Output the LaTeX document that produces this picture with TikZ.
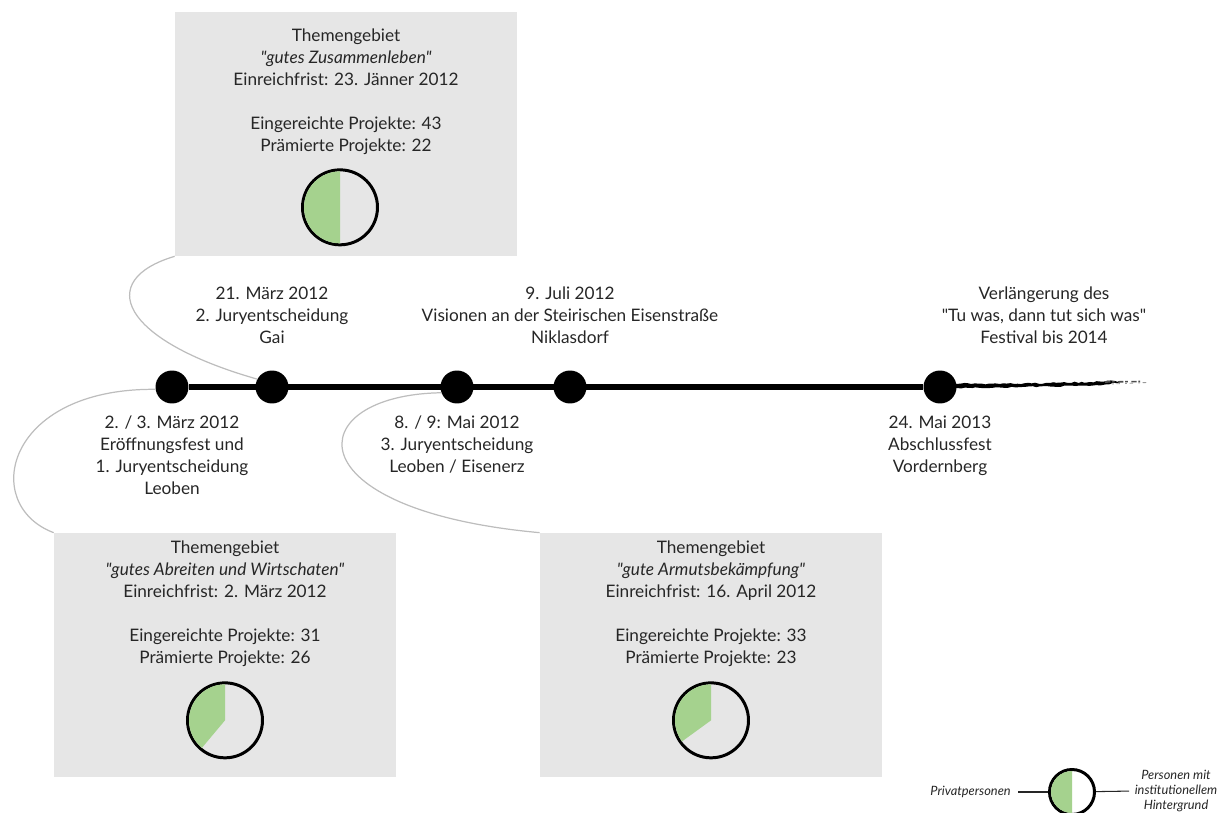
\documentclass[tikz,border=0pt]{standalone}
\usepackage{fontspec}
\setmainfont{Lato}[Ligatures=TeXOff]
\usetikzlibrary{positioning, decorations.pathmorphing}
\definecolor{BoxGray}{HTML}{E6E6E6}
\definecolor{PieGreen}{HTML}{A5D28E}
\definecolor{TextGray}{HTML}{262626}
\definecolor{LinkGray}{HTML}{BDBDBD}
\tikzset{
  themebox/.style={fill=BoxGray, minimum width=6.84cm, minimum height=4.88cm, inner sep=0pt},
  boxtext/.style={align=center, inner sep=0pt, text=TextGray,
    font=\fontsize{9.8}{12.5}\selectfont},
  evdot/.style={circle, fill=black, minimum size=0.66cm, inner sep=0pt},
  evlabel/.style={boxtext},
  pie/.style={circle, draw=black, line width=1.7pt, minimum size=1.5cm, inner sep=0pt},
  link/.style={draw=LinkGray, line width=0.7pt},
  timeline/.style={draw=black, line width=3.4pt},
  legtext/.style={align=center, inner sep=0pt, text=TextGray,
    font=\fontsize{7.3}{8.3}\selectfont\itshape},
  legline/.style={draw=TextGray, line width=0.6pt},
}

\begin{document}
\begin{tikzpicture}[x=0.02cm, y=-0.02cm]
  \useasboundingbox (0,0) rectangle (1223,813);

  % Themengebiete
  \node[themebox] (box1) at (346,134) {};
  \node[themebox] (box2) at (225,655) {};
  \node[themebox] (box3) at (711,655) {};
  \node[boxtext, below=0.34cm of box1.north] (txt1) {Themengebiet\\\textit{"gutes Zusammenleben"}\\Einreichfrist: 23. Jänner 2012\\[12.5pt]Eingereichte Projekte: 43\\Prämierte Projekte: 22};
  \node[boxtext, below=0.16cm of box2.north] (txt2) {Themengebiet\\\textit{"gutes Abreiten und Wirtschaten"}\\Einreichfrist: 2. März 2012\\[12.5pt]Eingereichte Projekte: 31\\Prämierte Projekte: 26};
  \node[boxtext, below=0.16cm of box3.north] (txt3) {Themengebiet\\\textit{"gute Armutsbekämpfung"}\\Einreichfrist: 16. April 2012\\[12.5pt]Eingereichte Projekte: 33\\Prämierte Projekte: 23};

  % Kreisdiagramme
  \node[pie, above=0.2cm of box1.south, xshift=-0.12cm] (pie1) {};
  \node[pie, above=0.36cm of box2.south] (pie2) {};
  \node[pie, above=0.36cm of box3.south] (pie3) {};
  \fill[PieGreen] (pie1.center) -- ++(90:0.72cm) arc[start angle=90, end angle=270, radius=0.72cm] -- cycle;
  \fill[PieGreen] (pie2.center) -- ++(90:0.72cm) arc[start angle=90, end angle=230, radius=0.72cm] -- cycle;
  \fill[PieGreen] (pie3.center) -- ++(90:0.72cm) arc[start angle=90, end angle=216, radius=0.72cm] -- cycle;

  % Zeitleiste
  \node[evdot] (d1) at (172,387) {};
  \node[evdot] (d2) at (272,387) {};
  \node[evdot] (d3) at (457,387) {};
  \node[evdot] (d4) at (570,387) {};
  \node[evdot] (d5) at (940,387) {};
  \draw[timeline] (d1) -- (d5);
  \pgfmathsetseed{7}
  \fill[black, decorate, decoration={random steps, segment length=2pt, amplitude=0.4pt}]
    (950,383.5) -- (1000,384) -- (1050,383) -- (1090,382) -- (1115,381) -- (1120,382.5)
    -- (1100,385.5) -- (1050,386.5) -- (1000,387.5) -- (950,388) -- cycle;
  \draw[black!70, line width=0.9pt, dash pattern=on 3pt off 1pt on 1.5pt off 2pt] (1105,382) -- (1140,381.5);
  \draw[black!40, line width=0.5pt, dash pattern=on 1pt off 1.5pt on 2pt off 3pt] (1112,384) -- (1147,382.5);

  % Termine
  \node[evlabel, above=0.52cm of d2] (l2) {21. März 2012\\2. Juryentscheidung\\Gai};
  \node[evlabel, above=0.52cm of d4] (l4) {9. Juli 2012\\Visionen an der Steirischen Eisenstraße\\Niklasdorf};
  \node[evlabel, above=0.52cm of d5, xshift=2.08cm] (l6) {Verlängerung des\\"Tu was, dann tut sich was"\\Festival bis 2014};
  \node[evlabel, below=0.23cm of d1] (l1) {2. / 3. März 2012\\Eröffnungsfest und\\1. Juryentscheidung\\Leoben};
  \node[evlabel, below=0.23cm of d3] (l3) {8. / 9: Mai 2012\\3. Juryentscheidung\\Leoben / Eisenerz};
  \node[evlabel, below=0.23cm of d5] (l5) {24. Mai 2013\\Abschlussfest\\Vordernberg};

  % Verbindungen
  \draw[link] (box1.south west) .. controls (95,280) and (120,340) .. (d2.152);
  \draw[link] (d1.188) .. controls (5,388) and (-20,505) .. (box2.north west);
  \draw[link] (d3.200) .. controls (300,395) and (290,510) .. (box3.north west);

  % Legende
  \fill[white] (1072,792) circle[radius=0.45cm];
  \node[pie, minimum size=0.9cm] (legpie) at (1072,792) {};
  \fill[PieGreen] (legpie.center) -- ++(90:0.42cm) arc[start angle=90, end angle=270, radius=0.42cm] -- cycle;
  \node[legtext, anchor=east] (legl) at (1011,792) {Privatpersonen};
  \node[legtext] (legr) at (1176,791) {Personen mit\\institutionellem\\Hintergrund};
  \draw[legline, shorten >=4pt] (legpie) -- (legl);
  \draw[legline, shorten >=3pt] (legpie) -- (legr.west);
\end{tikzpicture}
\end{document}
